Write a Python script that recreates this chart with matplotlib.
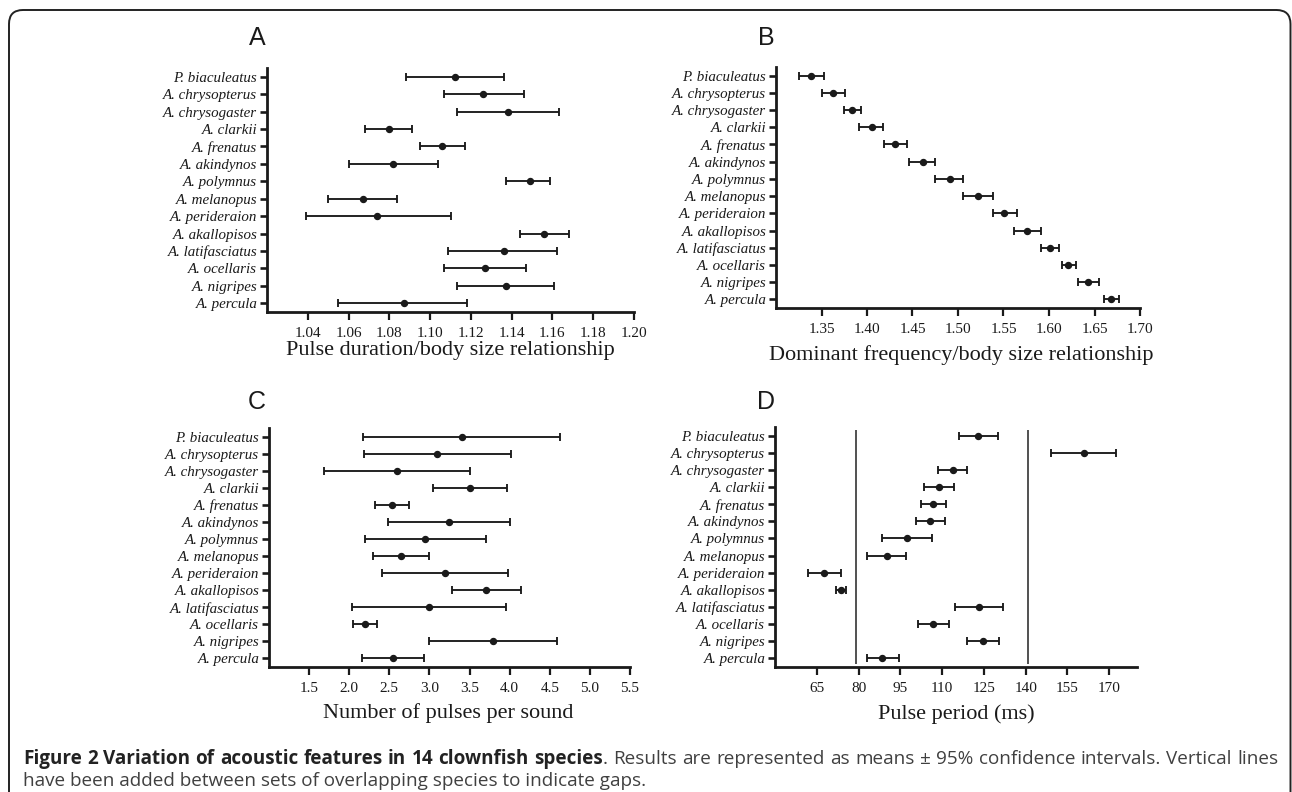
import matplotlib
matplotlib.use("Agg")
import matplotlib.pyplot as plt
from matplotlib.patches import FancyBboxPatch
import numpy as np

# ---------------- data ----------------
species = ["P. biaculeatus", "A. chrysopterus", "A. chrysogaster", "A. clarkii",
           "A. frenatus", "A. akindynos", "A. polymnus", "A. melanopus",
           "A. perideraion", "A. akallopisos", "A. latifasciatus", "A. ocellaris",
           "A. nigripes", "A. percula"]

dur_mean = [1.112, 1.126, 1.138, 1.080, 1.106, 1.082, 1.149, 1.067, 1.074, 1.156, 1.136, 1.127, 1.137, 1.087]
dur_low = [1.088, 1.107, 1.113, 1.068, 1.095, 1.060, 1.137, 1.050, 1.039, 1.144, 1.109, 1.107, 1.113, 1.055]
dur_high = [1.136, 1.146, 1.163, 1.091, 1.117, 1.104, 1.159, 1.084, 1.110, 1.168, 1.162, 1.147, 1.161, 1.118]

freq_mean = [1.339, 1.363, 1.384, 1.405, 1.431, 1.461, 1.491, 1.522, 1.551, 1.576, 1.601, 1.621, 1.643, 1.668]
freq_low = [1.325, 1.351, 1.375, 1.391, 1.419, 1.446, 1.475, 1.505, 1.539, 1.561, 1.591, 1.614, 1.632, 1.660]
freq_high = [1.353, 1.376, 1.393, 1.418, 1.444, 1.475, 1.506, 1.539, 1.565, 1.591, 1.611, 1.630, 1.655, 1.677]

pulses_mean = [3.40, 3.09, 2.60, 3.51, 2.53, 3.24, 2.94, 2.65, 3.20, 3.70, 2.99, 2.20, 3.79, 2.55]
pulses_low = [2.17, 2.18, 1.69, 3.05, 2.32, 2.48, 2.20, 2.30, 2.41, 3.28, 2.04, 2.05, 2.99, 2.16]
pulses_high = [4.63, 4.02, 3.50, 3.97, 2.75, 4.01, 3.70, 3.00, 3.98, 4.14, 3.95, 2.35, 4.59, 2.93]

period_mean = [122.9, 160.8, 113.8, 108.9, 106.8, 105.7, 97.4, 90.1, 67.7, 73.8, 123.4, 106.8, 124.6, 88.6]
period_low = [115.9, 149.2, 108.7, 103.5, 102.5, 100.8, 88.6, 83.1, 62.0, 72.0, 114.8, 101.3, 119.0, 83.1]
period_high = [130.0, 172.4, 118.8, 114.4, 111.4, 111.1, 106.5, 97.1, 73.6, 75.6, 131.9, 112.4, 130.3, 94.6]

gap_lines = [79, 141]

ticks_A = [1.04, 1.06, 1.08, 1.10, 1.12, 1.14, 1.16, 1.18, 1.20]
ticks_B = [1.35, 1.40, 1.45, 1.50, 1.55, 1.60, 1.65, 1.70]
ticks_C = [1.5, 2.0, 2.5, 3.0, 3.5, 4.0, 4.5, 5.0, 5.5]
ticks_D = [65, 80, 95, 110, 125, 140, 155, 170]

xlabel_A = "Pulse duration/body size relationship"
xlabel_B = "Dominant frequency/body size relationship"
xlabel_C = "Number of pulses per sound"
xlabel_D = "Pulse period (ms)"

cap_bold = "Figure 2 Variation of acoustic features in 14 clownfish species"
cap_rest = ". Results are represented as means \u00b1 95% confidence intervals. Vertical lines"
cap_line2 = "have been added between sets of overlapping species to indicate gaps."

# ---------------- figure ----------------
W, H = 1292, 792
fig = plt.figure(figsize=(W / 100, H / 100), dpi=100)
fig.patch.set_facecolor("white")

SERIF = "Liberation Serif"
INK = "#1a1a1a"


def px_rect(left, right, top, bottom):
    return [left / W, 1 - bottom / H, (right - left) / W, (bottom - top) / H]


def panel(rect, mean, low, high, xlim, ticks, fmt):
    ax = fig.add_axes(rect)
    y = np.arange(len(species))
    mean = np.asarray(mean)
    err = [mean - np.asarray(low), np.asarray(high) - mean]
    ax.errorbar(mean, y, xerr=err, fmt="o", color=INK, ms=4.3, capsize=3.2,
                elinewidth=1.35, capthick=1.35, zorder=3)
    ax.set_ylim(len(species) - 0.5, -0.5)
    ax.set_xlim(*xlim)
    ax.set_yticks(y)
    ax.set_yticklabels(species, family=SERIF, style="italic", fontsize=10.8, color=INK)
    ax.set_xticks(ticks)
    ax.set_xticklabels([fmt.format(t) for t in ticks], family=SERIF, fontsize=11, color=INK)
    for s in ["top", "right"]:
        ax.spines[s].set_visible(False)
    for s in ["left", "bottom"]:
        ax.spines[s].set_linewidth(2.0)
        ax.spines[s].set_color(INK)
    ax.tick_params(axis="y", length=5, width=1.9, direction="out", pad=2, color=INK)
    ax.tick_params(axis="x", length=6, width=1.6, direction="out", pad=5, color=INK)
    ax.set_facecolor("none")
    return ax


axA = panel(px_rect(267, 634, 68, 312), dur_mean, dur_low, dur_high, (1.02, 1.20), ticks_A, "{:.2f}")
axB = panel(px_rect(776, 1140, 67, 308), freq_mean, freq_low, freq_high, (1.30, 1.70), ticks_B, "{:.2f}")
axC = panel(px_rect(269, 630, 428, 667), pulses_mean, pulses_low, pulses_high, (1.0, 5.5), ticks_C, "{:.1f}")
axD = panel(px_rect(775, 1137, 427, 667), period_mean, period_low, period_high, (50, 180), ticks_D, "{:.0f}")
axD.vlines(gap_lines, -0.3, 13.35, color="#333333", lw=1.2, zorder=2)

# panel letters
for letter, (x, y) in zip("ABCD", [(257, 38), (766, 38), (257, 402), (766, 402)]):
    fig.text(x / W, 1 - y / H, letter, ha="center", va="center",
             family="Liberation Sans", fontsize=18, color=INK)

# axis titles
for label, (x, y) in zip([xlabel_A, xlabel_B, xlabel_C, xlabel_D],
                         [(450, 351), (961, 355), (448, 713), (956, 714)]):
    fig.text(x / W, 1 - y / H, label, ha="center", va="center",
             family=SERIF, fontsize=16, color=INK)

# frame box
box = FancyBboxPatch((9, -40), 1281.5, H - 10 + 40,
                     boxstyle="round,pad=0,rounding_size=14",
                     transform=None, fill=False, lw=1.4, ec="#222222")
fig.patches.append(box)

# caption (first line justified between left and right margins)
CAP_B = "#222222"
CAP = "#404040"
cap_size = 13.6
cap_left, cap_right = 23, 1278
y1, y2 = 1 - 759 / H, 1 - 781 / H
fig.canvas.draw()
r = fig.canvas.get_renderer()

tokens = [[(w, True)] for w in cap_bold.split(" ")]
rest_words = cap_rest.split(" ")
tokens[-1].append((rest_words[0], False))          # "species" + "."
tokens += [[(w, False)] for w in rest_words[1:]]

widths = []
for tok in tokens:
    tw = 0.0
    for txt, bold in tok:
        t = fig.text(0, 0, txt, fontweight="bold" if bold else "normal",
                     family="Open Sans", fontsize=cap_size)
        tw += t.get_window_extent(r).width
        t.remove()
    widths.append(tw)
gap = (cap_right - cap_left - sum(widths)) / (len(tokens) - 1)
x = cap_left
for tok, tw in zip(tokens, widths):
    xx = x
    for txt, bold in tok:
        t = fig.text(xx / W, y1, txt, fontweight="bold" if bold else "normal",
                     family="Open Sans", fontsize=cap_size,
                     color=CAP_B if bold else CAP, va="center", ha="left")
        xx += t.get_window_extent(r).width
    x += tw + gap

fig.text(cap_left / W, y2, cap_line2, family="Open Sans",
         fontsize=cap_size, color=CAP, va="center", ha="left")

fig.savefig("out.png", dpi=100)
